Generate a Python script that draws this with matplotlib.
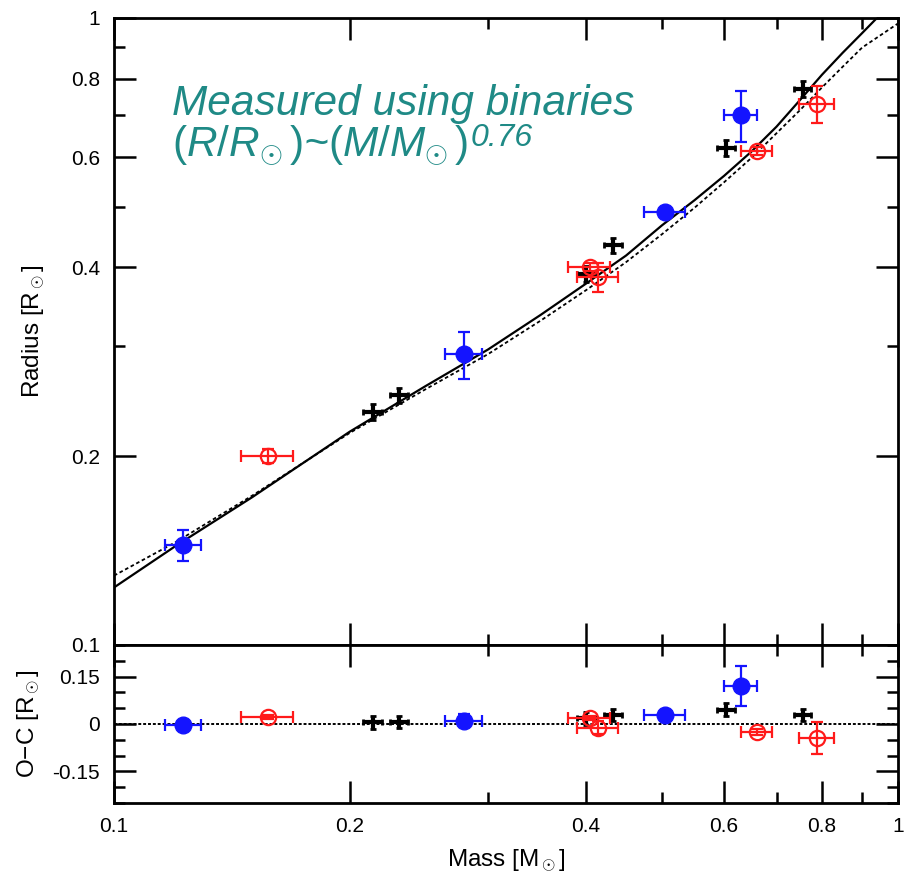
"""Mass-radius relation for M dwarfs measured with eclipsing binaries."""

import matplotlib

matplotlib.use("Agg")

import matplotlib.pyplot as plt  # noqa: E402
from matplotlib.ticker import FixedLocator, MultipleLocator, NullFormatter  # noqa: E402

# model curve (solid) and fitted relation (dotted)
model_mass = [0.10, 0.12, 0.15, 0.20, 0.25, 0.30, 0.35, 0.40, 0.45, 0.50,
              0.55, 0.60, 0.65, 0.70, 0.75, 0.80, 0.85, 0.90, 0.94]
model_radius = [0.1235, 0.144, 0.172, 0.219, 0.259, 0.296, 0.336, 0.377, 0.418, 0.467,
                0.512, 0.560, 0.612, 0.671, 0.740, 0.812, 0.880, 0.946, 1.0]
fit_mass = [0.10, 0.12, 0.15, 0.20, 0.25, 0.30, 0.35, 0.40, 0.45, 0.50,
            0.55, 0.60, 0.65, 0.70, 0.75, 0.80, 0.85, 0.90, 1.00]
fit_radius = [0.129, 0.146, 0.173, 0.218, 0.256, 0.291, 0.329, 0.368, 0.408, 0.452,
              0.498, 0.547, 0.598, 0.655, 0.713, 0.775, 0.836, 0.897, 0.98]

# filled blue circles
blue_mass = [0.1225, 0.2795, 0.5045, 0.6306]
blue_mass_err = [0.0065, 0.015, 0.03, 0.03]
blue_radius = [0.1443, 0.291, 0.4904, 0.700]
blue_radius_err = [0.008, 0.025, 0.008, 0.065]
blue_oc = [-0.004, 0.010, 0.028, 0.120]
blue_oc_err = [0.008, 0.02, 0.008, 0.063]

# open red circles
red_mass = [0.157, 0.4046, 0.4144, 0.661, 0.788]
red_mass_err = [0.012, 0.025, 0.025, 0.03, 0.04]
red_radius = [0.2001, 0.401, 0.386, 0.6136, 0.729]
red_radius_err = [0.005, 0.006, 0.02, 0.01, 0.05]
red_oc = [0.022, 0.020, -0.012, -0.025, -0.045]
red_oc_err = [0.005, 0.006, 0.02, 0.01, 0.05]

# black crosses
black_mass = [0.214, 0.231, 0.400, 0.433, 0.6035, 0.7564]
black_mass_err = [0.006, 0.006, 0.011, 0.011, 0.016, 0.019]
black_radius = [0.2353, 0.2504, 0.3907, 0.4345, 0.620, 0.770]
black_radius_err = [0.007, 0.007, 0.011, 0.012, 0.018, 0.022]
black_oc = [0.005, 0.006, 0.018, 0.028, 0.045, 0.028]
black_oc_err = [0.02, 0.02, 0.02, 0.02, 0.02, 0.02]

TEAL = "#1f8a86"
BLUE = "#1414ff"
RED = "#ff1a1a"

plt.rcParams["font.family"] = ["Liberation Sans", "DejaVu Sans"]
plt.rcParams["mathtext.fontset"] = "custom"
plt.rcParams["mathtext.it"] = "Liberation Sans:italic"
plt.rcParams["mathtext.rm"] = "Liberation Sans"

fig = plt.figure(figsize=(9.09, 8.73), dpi=100)
ax = fig.add_axes([0.1254, 0.2612, 0.8625, 0.7182])
ax_oc = fig.add_axes([0.1254, 0.0802, 0.8625, 0.1810], sharex=ax)


def draw_points(axis, bvals, berr, rvals, rerr, kvals, kerr):
    axis.errorbar(black_mass, kvals, xerr=black_mass_err, yerr=kerr, fmt="none",
                  ecolor="black", elinewidth=3.0, capsize=2.5, capthick=2.0, zorder=4)
    axis.errorbar(red_mass, rvals, xerr=red_mass_err, yerr=rerr, fmt="o", ms=11,
                  mfc="none", mec=RED, mew=1.6, ecolor=RED, elinewidth=1.6,
                  capsize=4.5, capthick=1.6, zorder=5)
    axis.errorbar(blue_mass, bvals, xerr=blue_mass_err, yerr=berr, fmt="o", ms=12,
                  mfc=BLUE, mec=BLUE, ecolor=BLUE, elinewidth=1.6,
                  capsize=4.5, capthick=1.6, zorder=6)


ax.plot(model_mass, model_radius, color="black", lw=1.6, zorder=3)
ax.plot(fit_mass, fit_radius, color="black", lw=1.3, ls=(0, (2, 1.5)), zorder=3)
draw_points(ax, blue_radius, blue_radius_err, red_radius, red_radius_err,
            black_radius, black_radius_err)

ax_oc.axhline(0.0, color="black", lw=1.4, ls=(0, (1.5, 1)), zorder=2)
draw_points(ax_oc, blue_oc, blue_oc_err, red_oc, red_oc_err, black_oc, black_oc_err)

for axis in (ax, ax_oc):
    axis.set_xscale("log")
    axis.set_xlim(0.1, 1.0)
    axis.xaxis.set_major_locator(FixedLocator([0.1, 0.2, 0.4, 0.6, 0.8, 1.0]))
    axis.xaxis.set_minor_locator(FixedLocator([0.3, 0.5, 0.7, 0.9]))
    axis.xaxis.set_minor_formatter(NullFormatter())
    axis.tick_params(which="both", direction="in", top=True, right=True,
                     width=1.8, labelsize=15, pad=10)
    axis.tick_params(which="major", length=16)
    axis.tick_params(which="minor", length=8)
    for spine in axis.spines.values():
        spine.set_linewidth(2.0)

ax.set_yscale("log")
ax.set_ylim(0.1, 1.0)
ax.yaxis.set_major_locator(FixedLocator([0.1, 0.2, 0.4, 0.6, 0.8, 1.0]))
ax.yaxis.set_minor_locator(FixedLocator([0.3, 0.5, 0.7, 0.9]))
ax.yaxis.set_minor_formatter(NullFormatter())
ax.set_yticklabels(["0.1", "0.2", "0.4", "0.6", "0.8", "1"])
ax.tick_params(axis="x", labelbottom=False)
ax.set_ylabel(r"Radius [R$_\odot$]", fontsize=17.5)
ax.yaxis.set_label_coords(-0.0855, 0.5)

ax_oc.set_ylim(-0.25, 0.25)
ax_oc.yaxis.set_major_locator(FixedLocator([-0.15, 0.0, 0.15]))
ax_oc.yaxis.set_minor_locator(MultipleLocator(0.05))
ax_oc.set_yticklabels(["-0.15", "0", "0.15"])
ax_oc.set_xticklabels(["0.1", "0.2", "0.4", "0.6", "0.8", "1"])
ax_oc.set_ylabel(r"O$-$C [R$_\odot$]", fontsize=17.5)
ax_oc.yaxis.set_label_coords(-0.092, 0.5)
ax_oc.set_xlabel(r"Mass [M$_\odot$]", fontsize=17.5)
ax_oc.xaxis.set_label_coords(0.5, -0.28)

ax.text(0.074, 0.8453, "Measured using binaries", transform=ax.transAxes,
        color=TEAL, fontsize=30.5, fontstyle="italic", ha="left", va="baseline")
relation = ax.text(0.074, 0.7799, r"$(R/R_{\odot}\,)$~$(M/M_{\odot}\,)$",
                   transform=ax.transAxes, color=TEAL, fontsize=30.5,
                   fontstyle="italic", ha="left", va="baseline")

# put the exponent right after the relation text, a little raised
fig.canvas.draw()
bbox = relation.get_window_extent()
x_end = ax.transAxes.inverted().transform((bbox.x1, bbox.y0))[0]
ax.text(x_end + 0.003, 0.796, "0.76", transform=ax.transAxes,
        color=TEAL, fontsize=23, fontstyle="italic", ha="left", va="baseline")

fig.savefig("out.png", dpi=100)
plt.close(fig)
